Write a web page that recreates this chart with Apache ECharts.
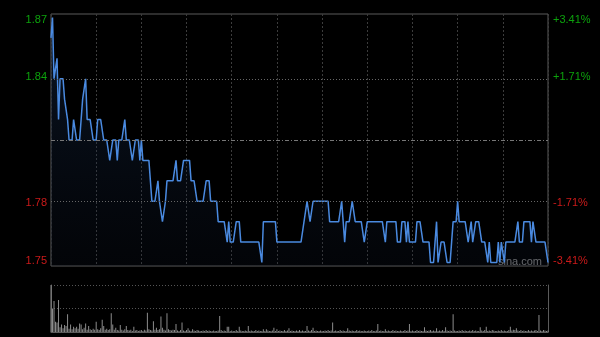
<!DOCTYPE html>
<html>
<head>
<meta charset="utf-8">
<script src="https://cdn.jsdelivr.net/npm/echarts@6/dist/echarts.min.js"></script>
<style>
html,body{margin:0;padding:0;background:#000;}
#chart{width:600px;height:337px;}
</style>
</head>
<body>
<div id="chart"></div>
<script>
// ---- data ----
const prevClose = 1.81;
const pctLimit = 3.41;          // axis range in percent around previous close
const pctTicks = [-3.41, -1.71, 1.71, 3.41];
const minutes = 331;            // one point per trading minute
const prices = [
  1.86,1.87,1.84,1.84,1.85,1.82,1.84,1.84,1.84,1.83,
  1.83,1.82,1.81,1.81,1.81,1.82,1.82,1.81,1.81,1.81,
  1.82,1.83,1.83,1.84,1.82,1.82,1.82,1.82,1.81,1.81,
  1.81,1.82,1.82,1.82,1.82,1.81,1.81,1.81,1.81,1.80,
  1.80,1.81,1.81,1.81,1.80,1.81,1.81,1.81,1.81,1.82,
  1.81,1.81,1.81,1.81,1.80,1.80,1.81,1.81,1.81,1.80,
  1.81,1.80,1.80,1.80,1.80,1.80,1.80,1.78,1.78,1.78,
  1.78,1.79,1.78,1.78,1.77,1.77,1.78,1.79,1.79,1.79,
  1.79,1.79,1.79,1.80,1.79,1.79,1.79,1.79,1.80,1.80,
  1.80,1.80,1.80,1.79,1.79,1.79,1.79,1.78,1.78,1.78,
  1.78,1.78,1.78,1.79,1.79,1.79,1.78,1.78,1.78,1.78,
  1.78,1.77,1.77,1.77,1.77,1.77,1.77,1.76,1.77,1.76,
  1.76,1.76,1.76,1.77,1.77,1.77,1.76,1.76,1.76,1.76,
  1.76,1.76,1.76,1.76,1.76,1.76,1.76,1.76,1.76,1.76,
  1.75,1.77,1.77,1.77,1.77,1.77,1.77,1.77,1.77,1.77,
  1.76,1.76,1.76,1.76,1.76,1.76,1.76,1.76,1.76,1.76,
  1.76,1.76,1.76,1.76,1.76,1.76,1.76,1.76,1.77,1.77,
  1.78,1.78,1.77,1.77,1.78,1.78,1.78,1.78,1.78,1.78,
  1.78,1.78,1.78,1.78,1.78,1.77,1.77,1.77,1.77,1.77,
  1.77,1.77,1.77,1.78,1.77,1.76,1.77,1.77,1.77,1.77,
  1.78,1.78,1.77,1.77,1.77,1.77,1.77,1.77,1.76,1.76,
  1.77,1.77,1.77,1.77,1.77,1.77,1.77,1.77,1.77,1.77,
  1.77,1.77,1.76,1.77,1.77,1.77,1.77,1.77,1.77,1.77,
  1.76,1.76,1.76,1.77,1.77,1.77,1.76,1.77,1.76,1.76,
  1.76,1.76,1.76,1.77,1.77,1.77,1.77,1.76,1.76,1.76,
  1.76,1.76,1.75,1.75,1.75,1.76,1.77,1.75,1.75,1.76,
  1.76,1.76,1.76,1.75,1.75,1.75,1.76,1.77,1.77,1.77,
  1.78,1.77,1.77,1.77,1.77,1.77,1.77,1.76,1.76,1.77,
  1.76,1.76,1.77,1.77,1.77,1.77,1.76,1.76,1.76,1.76,
  1.75,1.76,1.75,1.75,1.75,1.75,1.75,1.76,1.75,1.76,
  1.76,1.75,1.76,1.76,1.76,1.76,1.76,1.76,1.76,1.76,
  1.77,1.76,1.76,1.76,1.77,1.77,1.77,1.77,1.77,1.76,
  1.77,1.77,1.76,1.76,1.76,1.76,1.76,1.76,1.76,1.76,
  1.75
];
const volumes = [
  100,50,66,22,20,68,10,16,8,15,
  13,38,7,16,6,11,8,11,7,18,
  16,6,9,18,5,13,6,4,7,5,
  22,6,4,8,26,13,5,7,4,6,
  40,16,5,9,4,3,15,5,3,6,
  13,4,3,5,2,11,3,4,2,3,
  4,2,5,3,41,6,4,3,23,5,
  9,4,6,33,9,5,3,40,6,4,
  3,5,4,17,3,2,4,20,3,2,
  4,8,3,2,6,3,2,4,3,2,
  2,3,2,4,2,3,2,2,3,2,
  2,3,34,4,2,3,2,11,11,2,
  3,2,2,4,2,11,3,2,2,3,
  2,13,2,3,2,2,4,2,3,2,
  2,6,2,6,3,2,2,3,9,2,
  6,2,3,2,2,4,2,3,8,2,
  3,2,2,3,2,4,2,3,2,2,
  13,3,2,4,9,2,3,2,2,3,
  2,2,3,2,4,2,3,20,2,3,
  2,2,4,2,3,2,2,8,3,2,
  3,2,2,4,2,3,2,2,3,2,
  2,3,2,4,2,2,3,17,2,3,
  2,2,6,2,3,2,2,4,2,3,
  2,2,3,2,2,4,2,3,17,2,
  3,2,2,4,2,3,2,2,10,3,
  2,3,4,2,3,2,8,2,3,2,
  4,2,10,3,2,3,2,38,3,2,
  2,3,2,4,2,3,2,2,3,2,
  4,2,3,2,2,10,3,2,4,11,
  2,3,2,4,3,2,2,3,2,4,
  2,3,2,2,4,11,3,5,4,8,
  3,2,4,2,3,2,2,4,2,3,
  2,3,4,2,36,3,2,4,3,2,
  3
];
const volumeMax = 100;

// ---- derived ----
const yMin = prevClose * (1 - pctLimit / 100);
const yMax = prevClose * (1 + pctLimit / 100);
const priceTicks = pctTicks.map(p => prevClose * (1 + p / 100));
const GREEN = '#0ca20c', RED = '#cc1a1a';
const FONT = 'Liberation Sans, Arial, sans-serif';

const chart = echarts.init(document.getElementById('chart'), null, {renderer: 'canvas'});
chart.setOption({
  backgroundColor: '#000',
  animation: false,
  grid: [
    {left: 51, right: 52, top: 14, height: 252, show: true, borderColor: '#5a5a5a', borderWidth: 1, backgroundColor: 'transparent'},
    {left: 51, right: 52, top: 285, height: 47}
  ],
  xAxis: [
    {type: 'value', gridIndex: 0, min: 0, max: minutes - 1, interval: 30,
     axisLine: {show: false}, axisTick: {show: false}, axisLabel: {show: false},
     splitLine: {show: true, lineStyle: {color: '#3c3c3c', type: [2, 2], width: 1}}},
    {type: 'value', gridIndex: 1, min: 0, max: minutes - 1, interval: 30,
     axisLine: {show: true, lineStyle: {color: '#5a5a5a'}}, axisTick: {show: false}, axisLabel: {show: false},
     splitLine: {show: false}}
  ],
  yAxis: [
    {type: 'value', gridIndex: 0, min: yMin, max: yMax, position: 'left',
     axisLine: {show: false}, axisTick: {show: false}, splitLine: {show: false},
     axisLabel: {show: true, customValues: priceTicks, margin: 4, fontSize: 11, fontFamily: FONT,
       verticalAlignMinLabel: 'bottom', verticalAlignMaxLabel: 'top',
       formatter: v => v.toFixed(2),
       color: v => (v > prevClose ? GREEN : RED)}},
    {type: 'value', gridIndex: 0, min: -pctLimit, max: pctLimit, position: 'right',
     axisLine: {show: false}, axisTick: {show: false}, splitLine: {show: false},
     axisLabel: {show: true, customValues: pctTicks, margin: 5, fontSize: 11, fontFamily: FONT,
       verticalAlignMinLabel: 'bottom', verticalAlignMaxLabel: 'top',
       formatter: v => (v > 0 ? '+' : '') + v.toFixed(2) + '%',
       color: v => (v > 0 ? GREEN : RED)}},
    {type: 'value', gridIndex: 1, min: 0, max: volumeMax, interval: volumeMax / 2, position: 'left',
     axisLine: {show: true, lineStyle: {color: '#5a5a5a'}}, axisTick: {show: false}, axisLabel: {show: false},
     splitLine: {show: true, lineStyle: {color: '#555', type: [1, 2]}}},
    {type: 'value', gridIndex: 1, min: 0, max: volumeMax, position: 'right',
     axisLine: {show: true, lineStyle: {color: '#5a5a5a'}}, axisTick: {show: false}, axisLabel: {show: false},
     splitLine: {show: false}}
  ],
  series: [
    {type: 'line', xAxisIndex: 0, yAxisIndex: 0,
     data: prices.map((p, i) => [i, p]),
     showSymbol: false, symbol: 'none', silent: true,
     lineStyle: {color: '#4a8ae0', width: 1.5},
     areaStyle: {origin: 'start', color: new echarts.graphic.LinearGradient(0, 0, 0, 1, [
       {offset: 0, color: 'rgba(30,60,105,0.5)'},
       {offset: 1, color: 'rgba(15,25,45,0.25)'}
     ])},
     markLine: {silent: true, symbol: 'none', label: {show: false}, animation: false,
       data: [
         {yAxis: priceTicks[1], lineStyle: {color: '#666', type: [1, 2], width: 1}},
         {yAxis: priceTicks[2], lineStyle: {color: '#666', type: [1, 2], width: 1}},
         {yAxis: prevClose, lineStyle: {color: '#777', type: [4, 2, 1, 2], width: 1}}
       ]}},
    {type: 'bar', xAxisIndex: 1, yAxisIndex: 2,
     data: volumes.map((v, i) => [i, v]),
     barWidth: 1, silent: true,
     itemStyle: {color: '#8c8c8c'}}
  ],
  graphic: [
    {type: 'text', left: 498, top: 256, silent: true,
     style: {text: 'sina.com', fill: 'rgba(200,200,200,0.6)', font: '11px ' + FONT}}
  ]
});
</script>
</body>
</html>
